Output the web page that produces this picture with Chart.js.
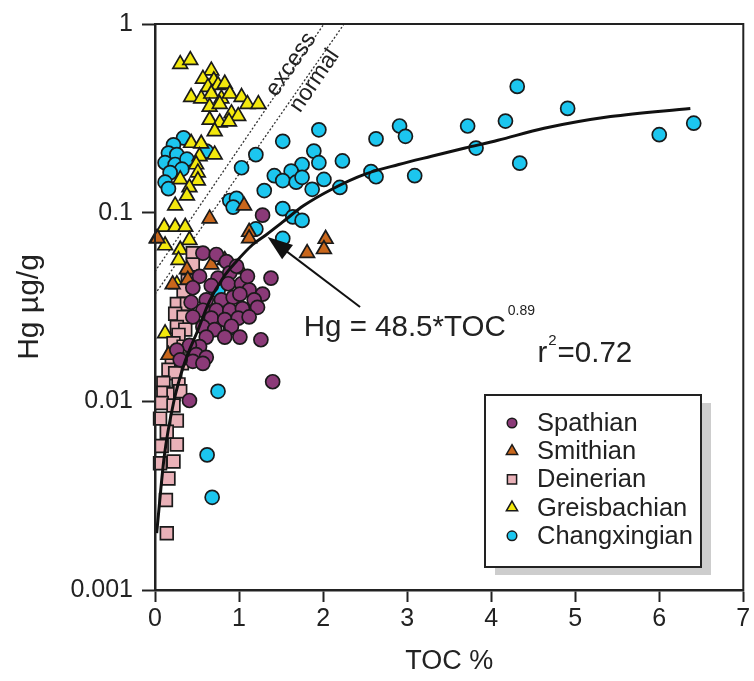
<!DOCTYPE html>
<html>
<head>
<meta charset="utf-8">
<script src="https://cdn.jsdelivr.net/npm/chart.js@4.4.1/dist/chart.umd.min.js"></script>
<style>
    html, body { margin: 0; padding: 0; background: #fff; }
    #wrap { width: 754px; height: 681px; }
</style>
</head>
<body>
<div id="wrap"><canvas id="graficoHg" width="754" height="681"></canvas></div>
<script>
// ---- datos ----
const seriesNames = ['Spathian', 'Smithian', 'Deinerian', 'Greisbachian', 'Changxingian'];

const spathianToc = [1.28,0.57,0.73,0.85,0.53,0.75,0.89,1.38,0.45,0.67,0.87,1.03,1.12,1.28,0.43,0.61,0.79,0.93,1.01,1.18,0.57,0.73,0.89,1.04,1.22,0.45,0.67,0.83,0.99,1.12,0.57,0.71,0.91,0.61,0.83,1.01,1.26,0.53,0.41,0.49,0.61,0.45,0.57,0.26,0.30,1.40,0.41,0.97,1.10];
const spathianHg  = [0.097,0.061,0.060,0.055,0.046,0.045,0.048,0.045,0.040,0.041,0.042,0.042,0.039,0.037,0.0335,0.0345,0.0345,0.0356,0.037,0.0345,0.0304,0.0304,0.0304,0.031,0.0315,0.028,0.0276,0.0271,0.0276,0.028,0.0248,0.024,0.025,0.0219,0.0219,0.0219,0.0212,0.0195,0.0198,0.0177,0.0171,0.0163,0.0159,0.0187,0.0166,0.0127,0.0101,0.052,0.046];

const smithianToc = [1.06,0.65,1.12,1.12,0.03,2.03,2.01,1.81,0.67,0.38,0.83,1.01,0.39,0.16,0.21];
const smithianHg  = [0.109,0.093,0.079,0.073,0.073,0.0725,0.064,0.061,0.053,0.050,0.056,0.050,0.044,0.0176,0.0417];

const deinerianToc = [0.45,0.45,0.39,0.34,0.26,0.38,0.24,0.34,0.26,0.36,0.28,0.22,0.34,0.20,0.32,0.16,0.24,0.10,0.28,0.10,0.22,0.30,0.08,0.22,0.06,0.26,0.14,0.08,0.26,0.06,0.22,0.16,0.13,0.14];
const deinerianHg  = [0.061,0.0531,0.0434,0.0385,0.0328,0.0328,0.0291,0.028,0.0248,0.024,0.0225,0.0203,0.0195,0.0166,0.0159,0.0147,0.0141,0.0125,0.0123,0.0111,0.0109,0.0113,0.0098,0.0095,0.0081,0.0079,0.0069,0.0058,0.0059,0.0047,0.0048,0.0039,0.0030,0.0020];

const greisToc = [0.30,0.42,0.67,0.57,0.70,0.63,0.75,0.83,0.43,0.55,0.67,0.79,0.89,1.03,1.10,1.23,0.65,0.77,0.91,0.99,0.65,0.77,0.88,0.71,0.43,0.55,0.53,0.71,0.49,0.51,0.30,0.51,0.41,0.38,0.24,0.11,0.24,0.36,0.02,0.12,0.41,0.30,0.28,0.26,0.12];
const greisHg  = [0.613,0.643,0.566,0.512,0.502,0.463,0.474,0.482,0.410,0.402,0.427,0.402,0.427,0.410,0.376,0.376,0.364,0.376,0.336,0.325,0.310,0.300,0.304,0.270,0.234,0.232,0.199,0.203,0.180,0.163,0.150,0.148,0.136,0.123,0.109,0.084,0.084,0.084,0.073,0.067,0.0716,0.0636,0.056,0.0417,0.0229];

const changToc = [0.34,0.22,0.16,0.26,0.12,0.24,0.38,0.32,0.18,0.12,0.16,0.61,1.95,1.52,1.20,1.03,1.89,1.95,1.75,1.62,1.42,1.52,1.68,1.75,2.01,1.87,1.30,0.89,0.97,0.93,1.52,1.64,1.75,1.20,1.52,0.75,0.90,0.75,0.62,0.68,2.23,2.20,2.63,2.57,2.63,2.91,2.98,3.09,3.72,3.82,4.31,4.17,4.91,4.34,6.00,6.41];
const changHg  = [0.249,0.229,0.207,0.203,0.184,0.180,0.192,0.170,0.163,0.145,0.134,0.212,0.275,0.239,0.203,0.173,0.212,0.184,0.180,0.166,0.157,0.148,0.145,0.154,0.150,0.133,0.131,0.116,0.119,0.107,0.105,0.095,0.091,0.082,0.073,0.0385,0.0245,0.0113,0.0052,0.0031,0.188,0.136,0.246,0.165,0.155,0.288,0.254,0.157,0.288,0.220,0.467,0.306,0.357,0.183,0.259,0.298];

// curva de ajuste
const fitToc = [0.02,0.11,0.22,0.35,0.51,0.65,0.81,0.97,1.16,1.32,1.52,1.77,2.11,2.50,2.90,3.29,3.69,4.08,4.63,5.42,6.37];
const fitHg  = [0.0020,0.0051,0.0098,0.0159,0.0238,0.0341,0.0452,0.0552,0.0676,0.0762,0.0893,0.109,0.1335,0.160,0.180,0.199,0.220,0.242,0.280,0.323,0.357];

// lineas "excess" / "normal"
const excessToc = [0, 2.01];
const excessHg  = [0.0488, 1];
const normalToc = [0, 2.25];
const normalHg  = [0.037, 1];

const yTickValues = [0.001, 0.01, 0.1, 1];

function pares(xs, ys) {
    return xs.map(function (v, i) { return { x: v, y: ys[i] }; });
}

const FONT = "'Liberation Sans', Arial, sans-serif";
Chart.defaults.font.family = FONT;
Chart.defaults.color = '#222';

const edge = '#1a1a1a';

function puntos(label, xs, ys, color, style, radius, order) {
    return {
        type: 'scatter',
        label: label,
        data: pares(xs, ys),
        backgroundColor: color,
        borderColor: edge,
        borderWidth: 1.7,
        pointStyle: style,
        pointRadius: radius,
        order: order,
        clip: false
    };
}

const datasets = [
    {
        type: 'line', label: 'fit', data: pares(fitToc, fitHg),
        borderColor: '#111', borderWidth: 3, pointRadius: 0, fill: false,
        cubicInterpolationMode: 'monotone', order: 0
    },
    puntos(seriesNames[0], spathianToc, spathianHg, '#8b3a78', 'circle', 7, 1),
    puntos(seriesNames[1], smithianToc, smithianHg, '#c9671c', 'triangle', 8.5, 2),
    puntos(seriesNames[2], deinerianToc, deinerianHg, '#e9b1b8', 'rect', 9, 3),
    puntos(seriesNames[3], greisToc, greisHg, '#f3e80d', 'triangle', 8.5, 4),
    puntos(seriesNames[4], changToc, changHg, '#1cc6ef', 'circle', 7, 5),
    {
        type: 'line', label: 'excess', data: pares(excessToc, excessHg),
        borderColor: '#333', borderWidth: 1.3, borderDash: [2, 2], pointRadius: 0, order: 6
    },
    {
        type: 'line', label: 'normal', data: pares(normalToc, normalHg),
        borderColor: '#333', borderWidth: 1.3, borderDash: [2, 2], pointRadius: 0, order: 6
    }
];

// marco, textos, flecha y leyenda
const decor = {
    id: 'decor',
    afterDraw(chart) {
        const ctx = chart.ctx;
        const a = chart.chartArea;
        const x = chart.scales.x, y = chart.scales.y;
        ctx.save();

        ctx.strokeStyle = '#222';
        ctx.lineWidth = 2;
        ctx.strokeRect(a.left, a.top, a.right - a.left, a.bottom - a.top);

        // textos inclinados
        const p0x = x.getPixelForValue(excessToc[0]), p0y = y.getPixelForValue(excessHg[0]);
        const p1x = x.getPixelForValue(excessToc[1]), p1y = y.getPixelForValue(excessHg[1]);
        const ang = Math.atan2(p1y - p0y, p1x - p0x);
        ctx.fillStyle = '#222';
        ctx.font = '23px ' + FONT;
        ctx.textAlign = 'center';
        ctx.textBaseline = 'middle';
        [['excess', 1.62, 0.61], ['normal', 1.90, 0.50]].forEach(function (t) {
            ctx.save();
            ctx.translate(x.getPixelForValue(t[1]), y.getPixelForValue(t[2]));
            ctx.rotate(ang);
            ctx.fillText(t[0], 0, 0);
            ctx.restore();
        });

        // flecha
        const tx = x.getPixelForValue(2.44), ty = y.getPixelForValue(0.0316);
        const hx = x.getPixelForValue(1.34), hy = y.getPixelForValue(0.0743);
        const d = Math.atan2(hy - ty, hx - tx);
        ctx.strokeStyle = '#111';
        ctx.lineWidth = 2;
        ctx.beginPath();
        ctx.moveTo(tx, ty);
        ctx.lineTo(hx - Math.cos(d) * 16, hy - Math.sin(d) * 16);
        ctx.stroke();
        ctx.fillStyle = '#111';
        ctx.beginPath();
        ctx.moveTo(hx, hy);
        ctx.lineTo(hx - Math.cos(d) * 25 + Math.sin(d) * 9, hy - Math.sin(d) * 25 - Math.cos(d) * 9);
        ctx.lineTo(hx - Math.cos(d) * 25 - Math.sin(d) * 9, hy - Math.sin(d) * 25 + Math.cos(d) * 9);
        ctx.closePath();
        ctx.fill();

        // ecuacion
        ctx.fillStyle = '#222';
        ctx.textAlign = 'left';
        ctx.textBaseline = 'middle';
        let fx = x.getPixelForValue(1.77), fy = y.getPixelForValue(0.0245);
        ctx.font = '29.5px ' + FONT;
        ctx.fillText('Hg = 48.5*TOC', fx, fy);
        fx += ctx.measureText('Hg = 48.5*TOC').width + 2;
        ctx.font = '14px ' + FONT;
        ctx.fillText('0.89', fx, fy - 17);

        let rx = x.getPixelForValue(4.55), ry = y.getPixelForValue(0.0178);
        ctx.font = '29.5px ' + FONT;
        ctx.fillText('r', rx, ry);
        rx += ctx.measureText('r').width + 1;
        ctx.font = '15px ' + FONT;
        ctx.fillText('2', rx, ry - 13);
        rx += ctx.measureText('2').width + 1;
        ctx.font = '29.5px ' + FONT;
        ctx.fillText('=0.72', rx, ry);

        // leyenda
        const lx = 485, ly = 395, lw = 216, lh = 172;
        ctx.fillStyle = '#cdcdcd';
        ctx.fillRect(lx + 10, ly + 8, lw, lh);
        ctx.fillStyle = '#fff';
        ctx.fillRect(lx, ly, lw, lh);
        ctx.strokeStyle = '#222';
        ctx.lineWidth = 2;
        ctx.strokeRect(lx, ly, lw, lh);

        const sizes = [4.8, 6.5, 6.5, 6.5, 4.8];
        ctx.font = '25.5px ' + FONT;
        for (let i = 0; i < seriesNames.length; i++) {
            const ds = chart.data.datasets[i + 1];
            const cy = ly + 28 + i * 28.2;
            ctx.fillStyle = ds.backgroundColor;
            ctx.strokeStyle = edge;
            ctx.lineWidth = 1.5;
            Chart.helpers.drawPoint(ctx, { pointStyle: ds.pointStyle, radius: sizes[i], borderWidth: 1.5, rotation: 0 }, lx + 27, cy);
            ctx.fillStyle = '#222';
            ctx.fillText(seriesNames[i], lx + 52, cy + 1);
        }
        ctx.restore();
    }
};

const ctx = document.getElementById('graficoHg');

new Chart(ctx, {
    data: { datasets: datasets },
    options: {
        responsive: false,
        animation: false,
        layout: { padding: { top: 16, right: 7, left: 0, bottom: 0 } },
        plugins: {
            legend: { display: false },
            tooltip: { enabled: false }
        },
        scales: {
            x: {
                type: 'linear',
                min: 0,
                max: 7,
                ticks: { stepSize: 1, font: { size: 25 }, color: '#222', padding: 2 },
                grid: { drawOnChartArea: false, tickLength: 12, tickWidth: 2, tickColor: '#222' },
                border: { color: '#222', width: 2.5 },
                title: { display: true, text: 'TOC %', font: { size: 27 }, color: '#222', padding: { top: 0, bottom: 3 } },
                afterFit: function (scale) { scale.height = 91; }
            },
            y: {
                type: 'logarithmic',
                min: 0.001,
                max: 1,
                afterBuildTicks: function (scale) {
                    scale.ticks = yTickValues.map(function (v) { return { value: v }; });
                },
                ticks: {
                    font: { size: 25 }, color: '#222', padding: 9,
                    callback: function (v) { return String(v); }
                },
                grid: { drawOnChartArea: false, tickLength: 13, tickWidth: 2, tickColor: '#222' },
                border: { color: '#222', width: 2.5 },
                title: { display: true, text: 'Hg µg/g', font: { size: 30 }, color: '#222', padding: { top: 12, bottom: 0 } },
                afterFit: function (scale) { scale.width = 155; }
            }
        }
    },
    plugins: [decor]
});
</script>
</body>
</html>
